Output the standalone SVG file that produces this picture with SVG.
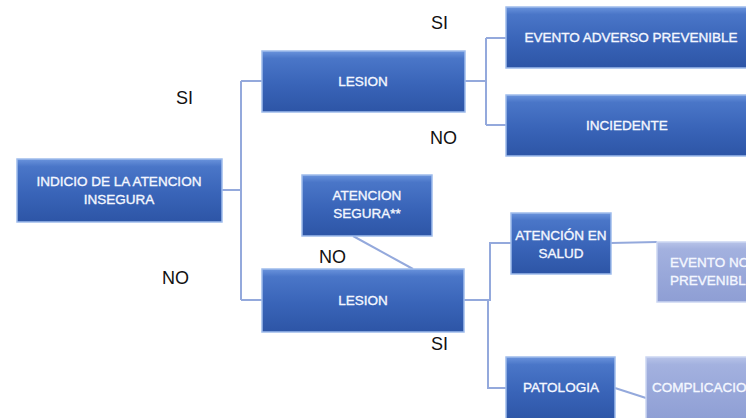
<svg xmlns="http://www.w3.org/2000/svg" width="746" height="418" viewBox="0 0 746 418">
<defs>
<linearGradient id="g" x1="0" y1="0" x2="0" y2="1">
<stop offset="0" stop-color="#6a93dc"/>
<stop offset="0.12" stop-color="#4a76c8"/>
<stop offset="0.55" stop-color="#3964b8"/>
<stop offset="1" stop-color="#2d55a6"/>
</linearGradient>
<linearGradient id="gl" x1="0" y1="0" x2="0" y2="1">
<stop offset="0" stop-color="#b7c3e8"/>
<stop offset="0.12" stop-color="#a3b1df"/>
<stop offset="1" stop-color="#8e9ed4"/>
</linearGradient>
<style>
.b{fill:url(#g);stroke:#9fbcec;stroke-width:1.5}
.bl{fill:url(#gl);stroke:#cbd6f2;stroke-width:1.5}
.t{fill:#f4f7ff;stroke:#f4f7ff;stroke-width:0.35;font-family:"Liberation Sans",Arial,sans-serif;font-size:13.5px;text-anchor:middle}
.lb{fill:#111;font-family:"Liberation Sans",Arial,sans-serif;font-size:18px}
.c{fill:none;stroke:#94a9dc;stroke-width:2}
</style>
</defs>
<g id="connectors">
<path class="c" d="M222 190 H241 M241 81 V300 M241 81 H262 M241 300 H262"/>
<path class="c" d="M465 81 H486 M486 38 V125 M486 38 H506 M486 125 H506"/>
<path class="c" d="M353 236 L413 269"/>
<path class="c" d="M464 300 H490 V243 H511 M488 300 V388 H506"/>
<path class="c" d="M611 243 L657 242"/>
<path class="c" d="M615 388 L646 398"/>
</g>
<g id="root"><rect class="b" x="17" y="159" width="205" height="63"/><text class="t" x="119" y="186">INDICIO DE LA ATENCION</text><text class="t" x="119" y="204">INSEGURA</text></g>
<g id="lesion1"><rect class="b" x="262" y="51" width="203" height="61"/><text class="t" x="363" y="86">LESION</text></g>
<g id="evento-adverso"><rect class="b" x="506" y="7" width="250" height="61"/><text class="t" x="631" y="42">EVENTO ADVERSO PREVENIBLE</text></g>
<g id="incidente"><rect class="b" x="506" y="95" width="250" height="61"/><text class="t" x="627" y="130">INCIEDENTE</text></g>
<g id="atencion-segura"><rect class="b" x="302" y="175" width="130" height="61"/><text class="t" x="367" y="200">ATENCION</text><text class="t" x="367" y="218">SEGURA**</text></g>
<g id="lesion2"><rect class="b" x="262" y="269" width="202" height="63"/><text class="t" x="363" y="305">LESION</text></g>
<g id="atencion-salud"><rect class="b" x="511" y="213" width="100" height="61"/><text class="t" x="561" y="240">ATENCIÓN EN</text><text class="t" x="561" y="258">SALUD</text></g>
<g id="evento-no"><rect class="bl" x="657" y="242" width="110" height="60"/><text class="t" x="670" y="267" style="text-anchor:start">EVENTO NO</text><text class="t" x="670" y="285" style="text-anchor:start">PREVENIBLE</text></g>
<g id="patologia"><rect class="b" x="506" y="357" width="109" height="64"/><text class="t" x="561" y="392">PATOLOGIA</text></g>
<g id="complicacion"><rect class="bl" x="646" y="357" width="120" height="64"/><text class="t" x="652" y="392" style="text-anchor:start">COMPLICACION</text></g>
<g id="labels">
<text class="lb" x="431" y="29">SI</text>
<text class="lb" x="176" y="104">SI</text>
<text class="lb" x="430" y="144">NO</text>
<text class="lb" x="162" y="284">NO</text>
<text class="lb" x="319" y="263">NO</text>
<text class="lb" x="431" y="350">SI</text>
</g>
</svg>
